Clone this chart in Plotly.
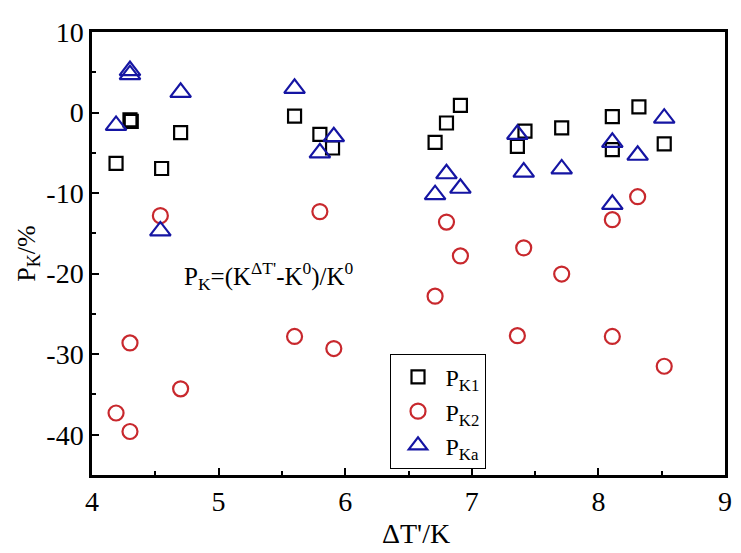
import plotly.graph_objects as go

# Data
x_k1 = [4.19, 4.30, 4.31, 4.55, 4.70, 5.60, 5.80, 5.90, 6.71, 6.80, 6.91, 7.36, 7.42, 7.71, 8.11, 8.11, 8.32, 8.52]
y_k1 = [-6.3, -0.9, -1.1, -6.95, -2.5, -0.45, -2.7, -4.4, -3.7, -1.3, 0.9, -4.2, -2.3, -1.9, -0.5, -4.6, 0.7, -3.9]

x_k2 = [4.19, 4.30, 4.30, 4.54, 4.70, 5.60, 5.80, 5.91, 6.71, 6.80, 6.91, 7.36, 7.41, 7.71, 8.11, 8.11, 8.31, 8.52]
y_k2 = [-37.3, -28.6, -39.6, -12.8, -34.3, -27.8, -12.3, -29.3, -22.8, -13.6, -17.8, -27.7, -16.8, -20.05, -13.3, -27.8, -10.45, -31.5]

x_ka = [4.19, 4.30, 4.30, 4.54, 4.70, 5.60, 5.80, 5.91, 6.71, 6.80, 6.91, 7.36, 7.41, 7.71, 8.11, 8.11, 8.31, 8.52]
y_ka = [-1.6, 5.2, 4.7, -14.7, 2.5, 3.0, -5.0, -3.0, -10.2, -7.6, -9.4, -2.7, -7.4, -7.0, -3.7, -11.4, -5.3, -0.7]

x_ticks = [4, 5, 6, 7, 8, 9]
y_ticks = [10, 0, -10, -20, -30, -40]

FONT = "Liberation Serif"
RED = "#C8282D"
BLUE = "#1515A3"

fig = go.Figure()
fig.add_trace(go.Scatter(x=x_k1, y=y_k1, mode="markers", name="P<sub>K1</sub>",
                         marker=dict(symbol="square-open", size=13, color="black",
                                     line=dict(width=2.2, color="black"))))
fig.add_trace(go.Scatter(x=x_k2, y=y_k2, mode="markers", name="P<sub>K2</sub>",
                         marker=dict(symbol="circle-open", size=15, color=RED,
                                     line=dict(width=2.2, color=RED))))
fig.add_trace(go.Scatter(x=x_ka, y=y_ka, mode="markers", name="P<sub>Ka</sub>",
                         marker=dict(symbol="triangle-up-open", size=18, color=BLUE,
                                     line=dict(width=2.2, color=BLUE))))

fig.add_annotation(x=4.71, y=-20.3, xref="x", yref="y", xanchor="left", yanchor="middle",
                   text="P<sub>K</sub>=(K<sup>ΔT'</sup>-K<sup>0</sup>)/K<sup>0</sup>",
                   showarrow=False, font=dict(family=FONT, size=25, color="black"))

# x-axis title (slightly right of centre, as in the reference)
fig.add_annotation(x=0.5125, y=-0.132, xref="paper", yref="paper", xanchor="center", yanchor="middle",
                   text="ΔT'/K", showarrow=False, font=dict(family=FONT, size=28, color="black"))

axis_common = dict(showline=True, linewidth=2.5, linecolor="black", mirror=True,
                   ticks="inside", ticklen=7, tickwidth=2, tickcolor="black",
                   showgrid=False, zeroline=False, ticklabeloverflow="allow",
                   tickfont=dict(family=FONT, size=28, color="black"))

fig.update_xaxes(range=[4, 9], tickvals=x_ticks, ticktext=[str(v) for v in x_ticks],
                 minor=dict(ticks="inside", ticklen=4, tickwidth=2, dtick=0.5, tickcolor="black"),
                 **axis_common)
fig.update_yaxes(range=[-45, 10], tickvals=y_ticks, ticktext=[str(v) for v in y_ticks],
                 minor=dict(ticks="inside", ticklen=4, tickwidth=2, dtick=5, tickcolor="black"),
                 title=dict(text="P<sub>K</sub>/%", font=dict(family=FONT, size=26, color="black"), standoff=4),
                 **axis_common)

# the page body has an 8px margin, so the figure is shrunk and shifted to compensate
fig.update_layout(width=733, height=545, margin=dict(l=84, r=9, t=14, b=78),
                  paper_bgcolor="white", plot_bgcolor="white",
                  legend=dict(x=0.47, y=0.2735, xanchor="left", yanchor="top",
                              bordercolor="black", borderwidth=1, bgcolor="white",
                              itemwidth=45,
                              font=dict(family=FONT, size=24, color="black")),
                  font=dict(family=FONT))

fig.write_html("out.html")
